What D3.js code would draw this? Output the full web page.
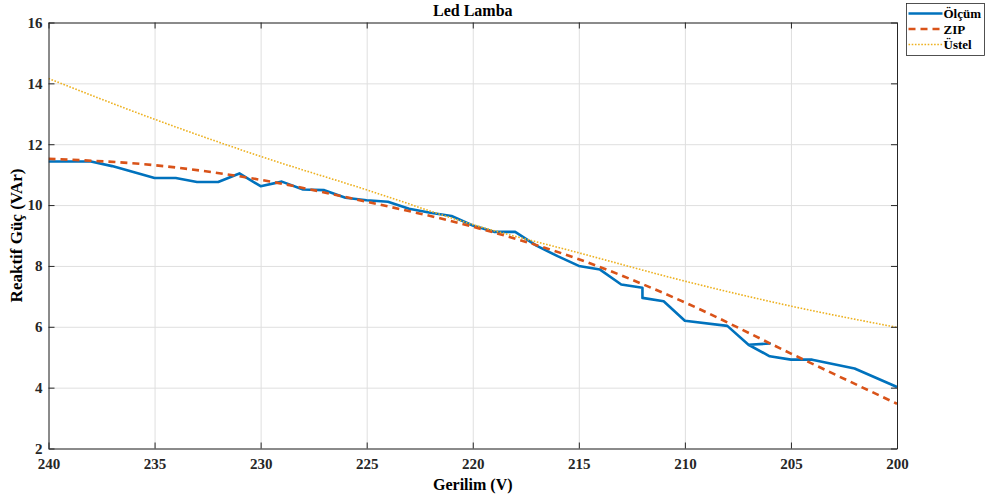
<!DOCTYPE html>
<html>
<head>
<meta charset="utf-8">
<script src="https://cdn.jsdelivr.net/npm/d3@7"></script>
<style>
  body { margin: 0; background: #fff; }
  svg { display: block; font-family: "Liberation Serif", "Times New Roman", serif; }
</style>
</head>
<body>
<svg id="grafico"></svg>
<script>
// dados
let gerilimOlcum = [240, 238, 237, 235, 234, 233, 232, 231, 230, 229, 228, 227, 226, 225, 224, 223, 222, 221, 220, 219, 218, 217, 216, 215, 214, 213, 212, 212, 211, 210, 208, 207, 206, 207, 206, 205, 204, 202, 200];
let olcum = [11.43, 11.43, 11.28, 10.89, 10.89, 10.76, 10.76, 11.04, 10.62, 10.77, 10.51, 10.49, 10.24, 10.16, 10.11, 9.88, 9.75, 9.64, 9.33, 9.12, 9.12, 8.67, 8.32, 8.0, 7.88, 7.39, 7.28, 6.95, 6.84, 6.2, 6.03, 5.41, 5.45, 5.41, 5.03, 4.92, 4.92, 4.63, 4.02];

let gerilimModel = [240, 235, 230, 225, 220, 215, 210, 205, 200];
let zip = [11.52, 11.31, 10.83, 10.11, 9.29, 8.22, 6.8, 5.12, 3.47];
let ustel = [14.16, 12.82, 11.6, 10.5, 9.36, 8.43, 7.5, 6.68, 5.98];

let ticksX = [240, 235, 230, 225, 220, 215, 210, 205, 200];
let ticksY = [2, 4, 6, 8, 10, 12, 14, 16];

let series = [
  { nome: 'Ölçüm', x: gerilimOlcum, y: olcum, cor: '#0072BD', largura: 2.6, traco: null, curva: d3.curveLinear },
  { nome: 'ZIP', x: gerilimModel, y: zip, cor: '#D95319', largura: 2.6, traco: '7,5', curva: d3.curveMonotoneX },
  { nome: 'Üstel', x: gerilimModel, y: ustel, cor: '#EDB120', largura: 1.6, traco: '1.6,1.6', curva: d3.curveMonotoneX }
];

let largura = 985, altura = 498;
let margem = { esq: 48.5, dir: 88, topo: 22.5, base: 49.5 };
let larguraPlotagem = largura - margem.esq - margem.dir;
let alturaPlotagem = altura - margem.topo - margem.base;

let svg = d3.select('#grafico')
  .attr('width', largura)
  .attr('height', altura);

let fnX = d3.scaleLinear().domain([240, 200]).range([0, larguraPlotagem]);
let fnY = d3.scaleLinear().domain([2, 16]).range([alturaPlotagem, 0]);

let plotagem = svg.append('g')
  .attr('transform', `translate(${margem.esq}, ${margem.topo})`);

// grade
plotagem.append('g')
  .attr('transform', `translate(0, ${alturaPlotagem})`)
  .call(d3.axisBottom(fnX).tickValues(ticksX).tickSize(-alturaPlotagem).tickFormat(''))
  .call(g => g.select('.domain').remove())
  .selectAll('line').attr('stroke', '#dfdfdf');

plotagem.append('g')
  .call(d3.axisLeft(fnY).tickValues(ticksY).tickSize(-larguraPlotagem).tickFormat(''))
  .call(g => g.select('.domain').remove())
  .selectAll('line').attr('stroke', '#dfdfdf');

// linhas
let defs = svg.append('defs');
defs.append('clipPath').attr('id', 'recorte')
  .append('rect').attr('width', larguraPlotagem).attr('height', alturaPlotagem);

series.forEach(s => {
  let linha = d3.line()
    .x((d, i) => fnX(s.x[i]))
    .y(d => fnY(d))
    .curve(s.curva);
  plotagem.append('path')
    .attr('clip-path', 'url(#recorte)')
    .attr('d', linha(s.y))
    .attr('fill', 'none')
    .attr('stroke', s.cor)
    .attr('stroke-width', s.largura)
    .attr('stroke-dasharray', s.traco)
    .attr('stroke-linejoin', 'round');
});

// eixos (ticks para dentro nos quatro lados)
let estiloEixo = g => {
  g.select('.domain').attr('stroke', '#262626');
  g.selectAll('.tick line').attr('stroke', '#262626');
  g.selectAll('text').attr('fill', '#262626').attr('font-size', 15).attr('font-weight', 'bold')
    .attr('font-family', '"Liberation Serif", serif');
};

plotagem.append('g')
  .attr('transform', `translate(0, ${alturaPlotagem})`)
  .call(d3.axisBottom(fnX).tickValues(ticksX).tickSize(-6).tickSizeOuter(0).tickPadding(10))
  .call(estiloEixo);

plotagem.append('g')
  .call(d3.axisTop(fnX).tickValues(ticksX).tickSize(-6).tickSizeOuter(0).tickFormat(''))
  .call(estiloEixo);

plotagem.append('g')
  .call(d3.axisLeft(fnY).tickValues(ticksY).tickSize(-6).tickSizeOuter(0).tickPadding(6))
  .call(estiloEixo);

plotagem.append('g')
  .attr('transform', `translate(${larguraPlotagem}, 0)`)
  .call(d3.axisRight(fnY).tickValues(ticksY).tickSize(-6).tickSizeOuter(0).tickFormat(''))
  .call(estiloEixo);

// títulos
svg.append('text')
  .attr('x', margem.esq + larguraPlotagem / 2)
  .attr('y', 16)
  .attr('text-anchor', 'middle')
  .attr('font-size', 16).attr('font-weight', 'bold').attr('fill', '#000')
  .text('Led Lamba');

svg.append('text')
  .attr('x', margem.esq + larguraPlotagem / 2)
  .attr('y', 490)
  .attr('text-anchor', 'middle')
  .attr('font-size', 16).attr('font-weight', 'bold').attr('fill', '#000')
  .text('Gerilim (V)');

svg.append('text')
  .attr('transform', `translate(22, ${margem.topo + alturaPlotagem / 2}) rotate(-90)`)
  .attr('text-anchor', 'middle')
  .attr('font-size', 17).attr('font-weight', 'bold').attr('fill', '#000')
  .text('Reaktif Güç (VAr)');

// legenda
let legenda = svg.append('g').attr('transform', 'translate(906.5, 3.5)');
legenda.append('rect')
  .attr('width', 78).attr('height', 52)
  .attr('fill', '#fff').attr('stroke', '#262626').attr('stroke-width', 0.8);

series.forEach((s, i) => {
  let yy = 10 + i * 15.5;
  legenda.append('line')
    .attr('x1', 2).attr('x2', 36).attr('y1', yy).attr('y2', yy)
    .attr('stroke', s.cor)
    .attr('stroke-width', s.largura)
    .attr('stroke-dasharray', s.traco);
  legenda.append('text')
    .attr('x', 37).attr('y', yy + 4.5)
    .attr('font-size', 13).attr('font-weight', 'bold').attr('fill', '#000')
    .text(s.nome);
});
</script>
</body>
</html>
